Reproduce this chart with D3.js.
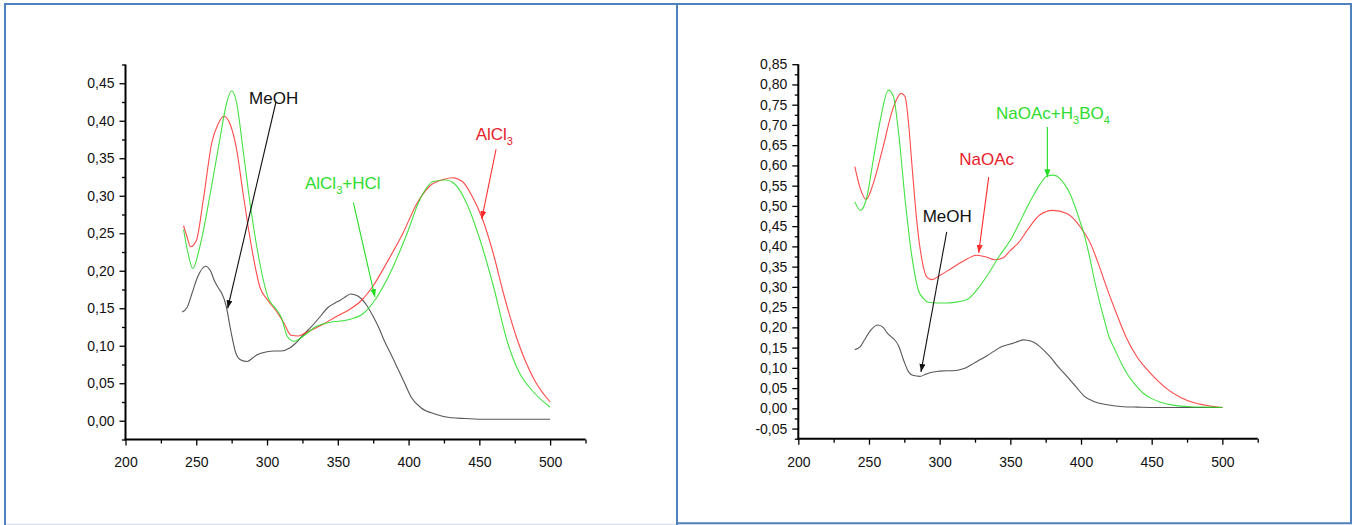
<!DOCTYPE html>
<html>
<head>
<meta charset="utf-8">
<script src="https://cdn.jsdelivr.net/npm/d3@7"></script>
<style>
  body { margin: 0; background: #fff; }
  svg { display: block; }
  text { font-family: "Liberation Sans", Arial, sans-serif; }
</style>
</head>
<body>
<svg id="chart" width="1355" height="525"></svg>
<script>
// Wavelength (nm) ticks shared by both spectra panels
const xMajorTicks = [200, 250, 300, 350, 400, 450, 500];
const xMinorTicks = [225, 275, 325, 375, 425, 475, 525];

// Left panel absorbance ticks
const yTicksLeft = [0, 0.05, 0.10, 0.15, 0.20, 0.25, 0.30, 0.35, 0.40, 0.45];
const yMinorLeft = [-0.025, 0.025, 0.075, 0.125, 0.175, 0.225, 0.275, 0.325, 0.375, 0.425, 0.475];

// Right panel absorbance ticks
const yTicksRight = [-0.05, 0, 0.05, 0.10, 0.15, 0.20, 0.25, 0.30, 0.35, 0.40, 0.45, 0.50,
                     0.55, 0.60, 0.65, 0.70, 0.75, 0.80, 0.85];
const yMinorRight = [-0.075, -0.025, 0.025, 0.075, 0.125, 0.175, 0.225, 0.275, 0.325, 0.375,
                     0.425, 0.475, 0.525, 0.575, 0.625, 0.675, 0.725, 0.775, 0.825];

// MeOH spectrum (same in both panels)
const meohNm  = [240, 243.5, 247, 251, 256.5, 260, 263, 266, 268, 271, 274.4, 278, 281.5, 286, 290, 293,
                 300, 305, 310, 316, 320, 324, 329, 333.5, 338, 343, 348, 352, 356, 359, 362, 366.5,
                 370, 375, 379, 383, 388, 392.5, 397, 402, 409, 418.5, 430, 440, 454, 470, 485, 500];
const meohAbs = [0.145, 0.151, 0.170, 0.192, 0.206, 0.200, 0.186, 0.176, 0.170, 0.154, 0.120, 0.090, 0.081,
                 0.079, 0.084, 0.088, 0.092, 0.093, 0.093, 0.097, 0.103, 0.111, 0.121, 0.130, 0.140, 0.151,
                 0.157, 0.161, 0.166, 0.169, 0.168, 0.163, 0.155, 0.139, 0.124, 0.106, 0.087, 0.069, 0.051,
                 0.031, 0.017, 0.009, 0.004, 0.003, 0.002, 0.002, 0.002, 0.002];

// AlCl3 spectrum
const alcl3Nm  = [241, 243.5, 246, 250, 255, 261, 265.5, 269.5, 274, 278.5, 283, 289, 295, 300, 307, 312,
                  317, 322, 329, 339, 348, 358, 367, 375, 385, 396, 406, 415, 425, 431, 438, 445, 452,
                  460, 467, 477, 489, 500];
const alcl3Abs = [0.260, 0.245, 0.232, 0.240, 0.295, 0.371, 0.396, 0.406, 0.395, 0.362, 0.304, 0.232,
                  0.178, 0.162, 0.145, 0.130, 0.114, 0.113, 0.119, 0.128, 0.138, 0.148, 0.161, 0.180,
                  0.212, 0.250, 0.290, 0.313, 0.322, 0.324, 0.319, 0.299, 0.270, 0.222, 0.170, 0.107,
                  0.054, 0.025];

// AlCl3 + HCl spectrum
const alcl3HclNm  = [241, 244, 247.5, 252.5, 260, 267, 271.5, 275, 278.5, 283, 288, 294, 301, 306, 310,
                     314.5, 319, 326.5, 334, 344, 358, 368, 377, 387, 399, 408, 417.5, 426, 433, 441,
                     450.5, 460, 469.5, 478, 487, 500];
const alcl3HclAbs = [0.255, 0.225, 0.203, 0.232, 0.304, 0.379, 0.424, 0.440, 0.424, 0.362, 0.290, 0.219,
                     0.163, 0.150, 0.138, 0.112, 0.106, 0.114, 0.125, 0.131, 0.135, 0.143, 0.163, 0.197,
                     0.250, 0.295, 0.319, 0.321, 0.315, 0.290, 0.241, 0.179, 0.107, 0.065, 0.041, 0.018];

// NaOAc spectrum
const naoacNm  = [240, 243.5, 248, 253, 260, 267, 272.8, 275.5, 278, 280.5, 284, 287.5, 291, 294.5, 300,
                  308, 315, 320, 326, 333, 339, 345, 350, 356, 362, 371, 380, 390, 399.5, 407, 413, 418,
                  425, 432, 440, 447, 454, 462, 470.5, 480, 489.5, 500];
const naoacAbs = [0.597, 0.547, 0.516, 0.555, 0.646, 0.741, 0.778, 0.770, 0.704, 0.597, 0.456, 0.366,
                  0.324, 0.318, 0.328, 0.345, 0.360, 0.370, 0.378, 0.374, 0.367, 0.372, 0.390, 0.410,
                  0.440, 0.478, 0.489, 0.481, 0.448, 0.405, 0.350, 0.300, 0.235, 0.175, 0.125, 0.095,
                  0.069, 0.045, 0.027, 0.014, 0.007, 0.002];

// NaOAc + H3BO4 spectrum
const naoacBoNm  = [240, 244, 248.5, 253, 258, 263.8, 267.3, 271, 275.6, 280.4, 285, 288.6, 292, 298, 305,
                    311, 316, 320, 324, 328, 334, 342, 350, 356, 362, 367, 371.3, 376, 380.7, 385, 388,
                    391.5, 395, 399, 402, 406, 409, 413, 416, 420, 423.2, 428, 432.7, 438, 444.5, 450,
                    456.3, 465, 477.5, 490, 500];
const naoacBoAbs = [0.510, 0.489, 0.522, 0.613, 0.712, 0.786, 0.770, 0.679, 0.514, 0.374, 0.291, 0.271,
                    0.262, 0.260, 0.260, 0.262, 0.265, 0.270, 0.283, 0.300, 0.330, 0.375, 0.415, 0.455,
                    0.498, 0.530, 0.555, 0.574, 0.576, 0.568, 0.555, 0.535, 0.506, 0.465, 0.432, 0.375,
                    0.325, 0.265, 0.225, 0.175, 0.151, 0.115, 0.085, 0.060, 0.036, 0.024, 0.015, 0.008,
                    0.004, 0.003, 0.002];

// Annotation labels: text ("_n" = subscript), label anchor and arrow start/tip, in nm / absorbance
const leftLabels   = ["MeOH", "AlCl_3+HCl", "AlCl_3"];
const leftLabelAt  = [[287.3, 0.422], [326.8, 0.309], [447.4, 0.375]];
const leftArrowFrom = [[306.3, 0.425], [361, 0.291], [461.8, 0.362]];
const leftArrowTo   = [[272.2, 0.150], [376.2, 0.165], [451.7, 0.269]];

const rightLabels   = ["NaOAc+H_3BO_4", "NaOAc", "MeOH"];
const rightLabelAt  = [[339.9, 0.714], [313.9, 0.601], [288, 0.461]];
const rightArrowFrom = [[376.2, 0.695], [334.7, 0.571], [305, 0.436]];
const rightArrowTo   = [[376.2, 0.571], [327.6, 0.384], [286.8, 0.090]];

const svg = d3.select("#chart");

const COLORS = { black: "#3a3a3a", red: "#ff2a2a", green: "#22dd22" };
const TEXT_COLORS = { black: "#111", red: "#e8202a", green: "#2ddc2d" };

// Arrowhead markers, one per annotation colour
const defs = svg.append("defs");
Object.entries(COLORS).forEach(([name, c]) => {
  defs.append("marker")
    .attr("id", "arrow-" + name)
    .attr("markerUnits", "userSpaceOnUse")
    .attr("markerWidth", 8).attr("markerHeight", 6)
    .attr("refX", 8).attr("refY", 3)
    .attr("orient", "auto")
    .append("path")
    .attr("d", "M0,0 L8,3 L0,6 Z")
    .attr("fill", name === "black" ? "#111" : c);
});

// Blue panel frames
const frameColor = "#4f81bd";
svg.append("line").attr("x1", 5).attr("x2", 676).attr("y1", 524.5).attr("y2", 524.5)
  .attr("stroke", "#d6e0ec").attr("stroke-width", 1.5);
svg.append("path")
  .attr("d", "M5,530 L5,4 L677,4 L677,530")
  .attr("fill", "none").attr("stroke", frameColor).attr("stroke-width", 2);
svg.append("path")
  .attr("d", "M677,4 L1351,4 L1351,523.2 L677,523.2 Z")
  .attr("fill", "none").attr("stroke", frameColor).attr("stroke-width", 2);

const fmt = v => d3.format(".2f")(v).replace(".", ",").replace("−", "-");

function drawLabel(g, str, x, y, color) {
  const t = g.append("text").attr("x", x).attr("y", y)
    .attr("fill", color).attr("font-size", 17);
  const parts = str.split(/_(\d)/);
  parts.forEach((p, i) => {
    if (p === "") return;
    if (i % 2 === 1) {
      t.append("tspan").text(p).attr("font-size", 11).attr("dy", 5);
    } else {
      t.append("tspan").text(p).attr("dy", i > 0 ? -5 : 0);
    }
  });
}

function drawPanel(p) {
  const x = d3.scaleLinear().domain([200, 525]).range(p.xRange);
  const y = d3.scaleLinear().domain(p.yDomain).range(p.yRange);
  const g = svg.append("g");
  const x0 = p.xRange[0], yBase = p.yRange[0];

  // y axis: major + minor ticks, comma decimal labels
  const yAxis = g.append("g").attr("transform", `translate(${x0},0)`);
  yAxis.call(d3.axisLeft(y).tickValues(p.yTicks).tickSize(6).tickPadding(5).tickFormat(fmt));
  yAxis.append("g").call(d3.axisLeft(y).tickValues(p.yMinor).tickSize(3.5).tickFormat(""));
  yAxis.selectAll(".domain").remove();

  // x axis
  const xAxis = g.append("g").attr("transform", `translate(0,${yBase})`);
  xAxis.call(d3.axisBottom(x).tickValues(xMajorTicks).tickSize(6).tickPadding(12).tickFormat(d3.format("d")));
  xAxis.append("g").call(d3.axisBottom(x).tickValues(xMinorTicks).tickSize(4).tickFormat(""));
  xAxis.selectAll(".domain").remove();

  g.selectAll(".tick line").attr("stroke", "#000").attr("stroke-width", 1.3);
  g.selectAll(".tick text").attr("font-size", 14).attr("fill", "#111")
    .style("font-family", '"Liberation Sans", Arial, sans-serif');

  // axis lines
  g.append("line").attr("x1", x0).attr("x2", x0).attr("y1", p.yRange[1]).attr("y2", yBase)
    .attr("stroke", "#000").attr("stroke-width", 2);
  g.append("line").attr("x1", x0 - 1).attr("x2", p.xRange[1]).attr("y1", yBase).attr("y2", yBase)
    .attr("stroke", "#000").attr("stroke-width", 2);

  // spectra
  const line = d3.line().x(d => x(d[0])).y(d => y(d[1])).curve(d3.curveMonotoneX);
  p.series.forEach(s => {
    g.append("path")
      .attr("d", line(d3.zip(s.nm, s.abs)))
      .attr("fill", "none")
      .attr("stroke", COLORS[s.color])
      .attr("stroke-width", 1.1)
      .attr("stroke-opacity", 0.85);
  });

  // annotations
  p.labels.forEach((lab, i) => {
    const c = p.labelColors[i];
    g.append("line")
      .attr("x1", x(p.arrowFrom[i][0])).attr("y1", y(p.arrowFrom[i][1]))
      .attr("x2", x(p.arrowTo[i][0])).attr("y2", y(p.arrowTo[i][1]))
      .attr("stroke", c === "black" ? "#111" : COLORS[c]).attr("stroke-width", 1.1)
      .attr("marker-end", `url(#arrow-${c})`);
    drawLabel(g, lab, x(p.labelAt[i][0]), y(p.labelAt[i][1]), TEXT_COLORS[c]);
  });
}

drawPanel({
  xRange: [125.5, 585.5],
  yDomain: [-0.025, 0.475],
  yRange: [439.5, 64.5],
  yTicks: yTicksLeft,
  yMinor: yMinorLeft,
  series: [
    { nm: meohNm, abs: meohAbs, color: "black" },
    { nm: alcl3Nm, abs: alcl3Abs, color: "red" },
    { nm: alcl3HclNm, abs: alcl3HclAbs, color: "green" }
  ],
  labels: leftLabels, labelAt: leftLabelAt, arrowFrom: leftArrowFrom, arrowTo: leftArrowTo,
  labelColors: ["black", "green", "red"]
});

drawPanel({
  xRange: [798.3, 1257.7],
  yDomain: [-0.075, 0.85],
  yRange: [438.7, 64.2],
  yTicks: yTicksRight,
  yMinor: yMinorRight,
  series: [
    { nm: meohNm, abs: meohAbs, color: "black" },
    { nm: naoacNm, abs: naoacAbs, color: "red" },
    { nm: naoacBoNm, abs: naoacBoAbs, color: "green" }
  ],
  labels: rightLabels, labelAt: rightLabelAt, arrowFrom: rightArrowFrom, arrowTo: rightArrowTo,
  labelColors: ["green", "red", "black"]
});
</script>
</body>
</html>
